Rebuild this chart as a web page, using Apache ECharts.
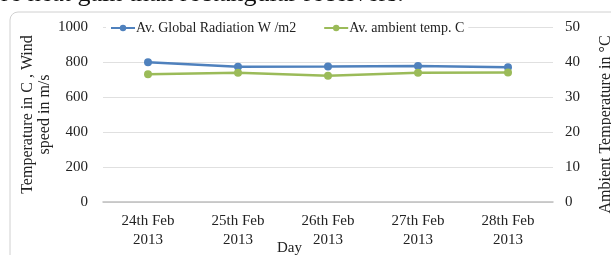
<!DOCTYPE html>
<html>
<head>
<meta charset="utf-8">
<script src="https://cdn.jsdelivr.net/npm/echarts@6/dist/echarts.min.js"></script>
<style>
  html, body { margin: 0; padding: 0; background: #fff; }
  #chart { width: 611px; height: 255px; }
</style>
</head>
<body>
<div id="chart"></div>
<script>
// Chart data
const days = ['24th Feb\n2013', '25th Feb\n2013', '26th Feb\n2013', '27th Feb\n2013', '28th Feb\n2013'];
const radiation = [798, 773, 774, 777, 770];
const ambientTemp = [36.5, 36.9, 36.1, 36.9, 37.0];

const FONT = 'Liberation Serif';
const BLUE = '#4F81BD';
const GREEN = '#9BBB59';

const chart = echarts.init(document.getElementById('chart'));

const tickStyle = { fontFamily: FONT, fontSize: 15, color: '#222' };
const titleStyle = { fontFamily: FONT, fontSize: 16, color: '#222' };

chart.setOption({
  animation: false,
  textStyle: { fontFamily: FONT },
  graphic: [
    {
      type: 'text', left: -12, top: -19, z: 10,
      style: { text: 'ore heat gain than rectangular receivers.', fontFamily: FONT, fontSize: 26, fill: '#111' }
    },
    {
      type: 'rect', z: -1,
      shape: { x: 10, y: 12, width: 640, height: 280, r: 8 },
      style: { fill: '#fff', stroke: '#d0d0d0', lineWidth: 1 }
    },
    {
      type: 'text', left: 277, top: 241,
      style: { text: 'Day', fontFamily: FONT, fontSize: 15, fill: '#222' }
    }
  ],
  legend: {
    top: 19, left: 106,
    itemGap: 27, itemWidth: 24, itemHeight: 8,
    data: ['Av. Global Radiation W /m2', 'Av. ambient temp. C'],
    textStyle: { fontFamily: FONT, fontSize: 14, color: '#222', padding: [0, 0, 0, -4] },
    backgroundColor: '#fff',
    padding: [2, 4]
  },
  grid: { left: 103, right: 58, top: 27, bottom: 53, outerBoundsMode: 'none' },
  xAxis: {
    type: 'category',
    data: days,
    axisLine: { lineStyle: { color: '#bfbfbf', width: 1.5 } },
    axisTick: { show: false },
    axisLabel: { ...tickStyle, lineHeight: 19, margin: 10 }
  },
  yAxis: [
    {
      type: 'value', min: 0, max: 1000, interval: 200,
      name: 'Temperature in C , Wind\nspeed in m/s',
      nameLocation: 'middle', nameGap: 50, nameMoveOverlap: false,
      nameTextStyle: { ...titleStyle, lineHeight: 17 },
      axisLine: { show: false }, axisTick: { show: false },
      axisLabel: { ...tickStyle, margin: 15, formatter: v => String(v) },
      splitLine: { lineStyle: { color: '#e0e0e0' } }
    },
    {
      type: 'value', min: 0, max: 50, interval: 10,
      name: 'Ambient Temperature in °C',
      nameLocation: 'middle', nameGap: 45, nameMoveOverlap: false,
      nameTextStyle: { ...titleStyle, padding: [0, 20, 0, 0] },
      axisLine: { show: false }, axisTick: { show: false },
      axisLabel: { ...tickStyle, margin: 12 },
      splitLine: { show: false }
    }
  ],
  series: [
    {
      name: 'Av. Global Radiation W /m2', type: 'line', yAxisIndex: 0,
      data: radiation, symbol: 'circle', symbolSize: 8,
      itemStyle: { color: BLUE }, lineStyle: { color: BLUE, width: 2.5 }
    },
    {
      name: 'Av. ambient temp. C', type: 'line', yAxisIndex: 1,
      data: ambientTemp, symbol: 'circle', symbolSize: 8,
      itemStyle: { color: GREEN }, lineStyle: { color: GREEN, width: 2.5 }
    }
  ]
});
</script>
</body>
</html>
